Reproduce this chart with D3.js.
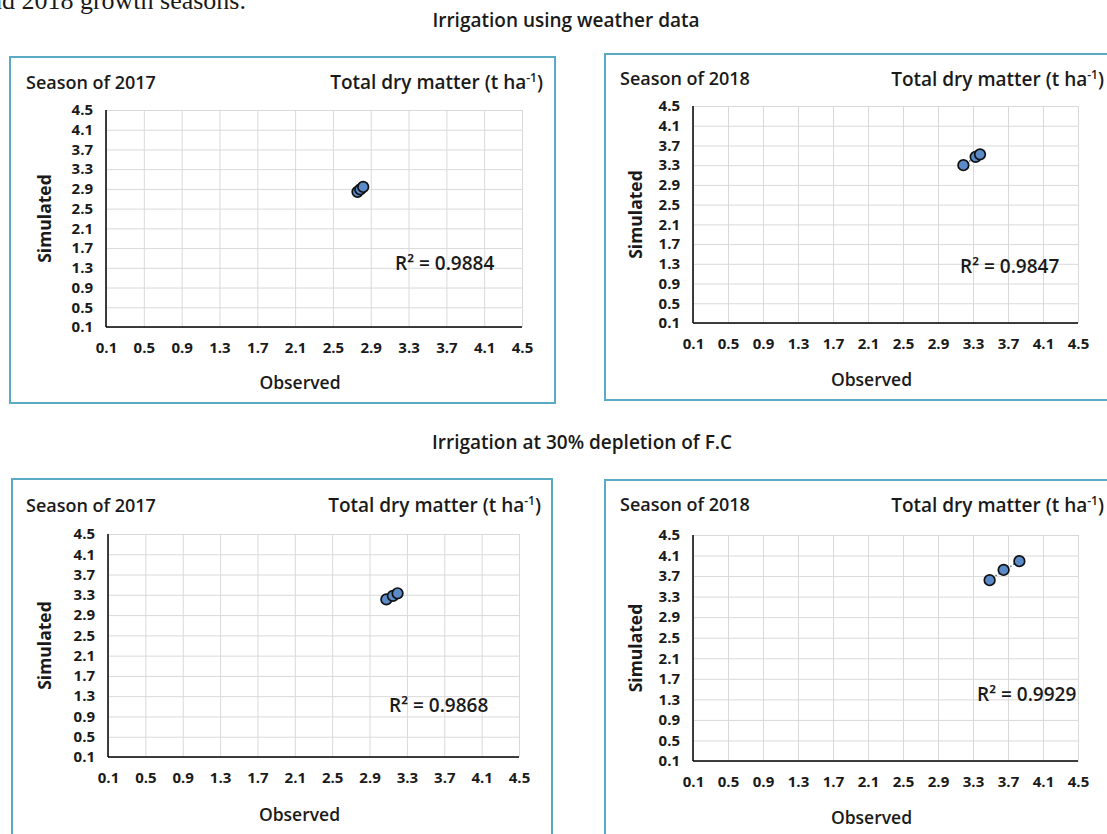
<!DOCTYPE html>
<html>
<head>
<meta charset="utf-8">
<script src="https://cdn.jsdelivr.net/npm/d3@7"></script>
<style>
  body { margin: 0; background: #fff; }
  svg text { font-family: "Open Sans", "Noto Sans", sans-serif; fill: #1a1a1a; }
</style>
</head>
<body>
<div class="grafico"></div>
<script>
// valori (t ha-1)
var ticks = [0.1, 0.5, 0.9, 1.3, 1.7, 2.1, 2.5, 2.9, 3.3, 3.7, 4.1, 4.5];
var stagioni = ["Season of 2017", "Season of 2018", "Season of 2017", "Season of 2018"];
var titoli = ["Irrigation using weather data", "Irrigation at 30% depletion of F.C"];
var r2 = ["0.9884", "0.9847", "0.9868", "0.9929"];

var oss2017meteo = [2.76, 2.79, 2.82];
var sim2017meteo = [2.84, 2.89, 2.94];
var oss2018meteo = [3.19, 3.33, 3.38];
var sim2018meteo = [3.30, 3.47, 3.52];
var oss2017fc = [3.08, 3.15, 3.20];
var sim2017fc = [3.21, 3.28, 3.33];
var oss2018fc = [3.49, 3.65, 3.83];
var sim2018fc = [3.62, 3.82, 3.99];

var osservati = [oss2017meteo, oss2018meteo, oss2017fc, oss2018fc];
var simulati = [sim2017meteo, sim2018meteo, sim2017fc, sim2018fc];

var w = 1107,
    h = 834;

var svg = d3.select(".grafico")
    .append("svg")
    .attr("width", w)
    .attr("height", h);

// testo del documento tagliato in alto
svg.append("text")
    .attr("x", 246)
    .attr("y", 9)
    .attr("text-anchor", "end")
    .style("font-family", "'Liberation Serif', serif")
    .style("font-size", "26px")
    .text("and 2018 growth seasons.");

// titoli di sezione
svg.append("text")
    .attr("x", 566).attr("y", 27)
    .attr("text-anchor", "middle")
    .style("font-size", "19px").style("font-weight", 600)
    .text(titoli[0]);
svg.append("text")
    .attr("x", 582).attr("y", 449)
    .attr("text-anchor", "middle")
    .style("font-size", "19px").style("font-weight", 600)
    .text(titoli[1]);

// posizione dei quattro riquadri
var pannelli = [
    { box: [10, 57, 545, 346], plot: [106, 110, 522, 327], sx: 26, sy: 89, tx: 543, ty: 89, rx: 395, ry: 270, simX: 45, obsY: 389 },
    { box: [605, 54, 520, 346], plot: [693, 106, 1078, 323], sx: 620, sy: 85, tx: 1104, ty: 86, rx: 960, ry: 273, simX: 636, obsY: 386 },
    { box: [12, 479, 540, 370], plot: [108, 534, 519, 757], sx: 26, sy: 512, tx: 541, ty: 512, rx: 389, ry: 712, simX: 45, obsY: 821 },
    { box: [605, 480, 520, 370], plot: [693, 535, 1078, 761], sx: 620, sy: 511, tx: 1104, ty: 512, rx: 977, ry: 701, simX: 636, obsY: 824 }
];

pannelli.forEach(function (p, i) {
    var g = svg.append("g").attr("class", "pannello");

    g.append("rect")
        .attr("x", p.box[0]).attr("y", p.box[1])
        .attr("width", p.box[2]).attr("height", p.box[3])
        .attr("fill", "none")
        .attr("stroke", "#5aaac3")
        .attr("stroke-width", 2);

    var x = d3.scaleLinear().domain([0.1, 4.5]).range([p.plot[0], p.plot[2]]);
    var y = d3.scaleLinear().domain([0.1, 4.5]).range([p.plot[3], p.plot[1]]);

    // griglia
    g.append("g")
        .attr("transform", "translate(0," + p.plot[3] + ")")
        .call(d3.axisBottom(x).tickValues(ticks).tickSize(-(p.plot[3] - p.plot[1])).tickFormat(""))
        .call(function (a) {
            a.select(".domain").remove();
            a.selectAll("line").attr("stroke", "#d9d9d9");
        });
    g.append("g")
        .attr("transform", "translate(" + p.plot[0] + ",0)")
        .call(d3.axisLeft(y).tickValues(ticks).tickSize(-(p.plot[2] - p.plot[0])).tickFormat(""))
        .call(function (a) {
            a.select(".domain").remove();
            a.selectAll("line").attr("stroke", "#d9d9d9");
        });

    // assi
    var asseX = g.append("g")
        .attr("transform", "translate(0," + p.plot[3] + ")")
        .call(d3.axisBottom(x).tickValues(ticks).tickSize(0).tickPadding(15).tickFormat(d3.format(".1f")));
    var asseY = g.append("g")
        .attr("transform", "translate(" + p.plot[0] + ",0)")
        .call(d3.axisLeft(y).tickValues(ticks).tickSize(0).tickPadding(13).tickFormat(d3.format(".1f")));
    [asseX, asseY].forEach(function (a) {
        a.select(".domain").attr("stroke", "#000").attr("stroke-width", 1.5);
        a.selectAll("text")
            .style("font-family", "'Open Sans', sans-serif")
            .style("font-size", "15px")
            .style("font-weight", 700)
            .attr("fill", "#1a1a1a");
    });
    asseY.select(".domain").attr("d", "M0," + p.plot[3] + "V" + p.plot[1]);
    asseX.select(".domain").attr("d", "M" + p.plot[0] + ",0H" + p.plot[2]);

    // linea di tendenza
    var ox = osservati[i], sy = simulati[i];
    var mx = d3.mean(ox), my = d3.mean(sy);
    var pend = d3.sum(ox, function (v, k) { return (v - mx) * (sy[k] - my); }) /
               d3.sum(ox, function (v) { return (v - mx) * (v - mx); });
    var x0 = d3.min(ox), x1 = d3.max(ox);
    g.append("line")
        .attr("x1", x(x0)).attr("y1", y(my + pend * (x0 - mx)))
        .attr("x2", x(x1)).attr("y2", y(my + pend * (x1 - mx)))
        .attr("stroke", "#4a6f9a")
        .attr("stroke-width", 1.5)
        .attr("stroke-dasharray", "1.5,2");

    // punti
    g.selectAll("circle.punto")
        .data(ox.map(function (v, k) { return [v, sy[k]]; }))
        .enter()
        .append("circle")
        .attr("class", "punto")
        .attr("cx", function (d) { return x(d[0]); })
        .attr("cy", function (d) { return y(d[1]); })
        .attr("r", 5.3)
        .attr("fill", "#5a8ac8")
        .attr("stroke", "#111")
        .attr("stroke-width", 1.7);

    // testi
    g.append("text")
        .attr("x", p.sx).attr("y", p.sy)
        .style("font-size", "18px").style("font-weight", 600)
        .text(stagioni[i]);

    var tit = g.append("text")
        .attr("x", p.tx).attr("y", p.ty)
        .attr("text-anchor", "end")
        .style("font-size", "19px").style("font-weight", 600);
    tit.append("tspan").text("Total dry matter (t ha");
    tit.append("tspan").attr("dy", -7).style("font-size", "12px").text("-1");
    tit.append("tspan").attr("dy", 7).text(")");

    g.append("text")
        .attr("x", p.rx).attr("y", p.ry)
        .style("font-size", "19px").style("font-weight", 600)
        .text("R\u00b2 = " + r2[i]);

    g.append("text")
        .attr("transform", "translate(" + (p.simX + 6) + "," + ((p.plot[1] + p.plot[3]) / 2) + ") rotate(-90)")
        .attr("text-anchor", "middle")
        .style("font-size", "17.5px").style("font-weight", 700)
        .text("Simulated");

    g.append("text")
        .attr("x", (p.plot[0] + p.plot[2]) / 2 - 14).attr("y", p.obsY)
        .attr("text-anchor", "middle")
        .style("font-size", "17.5px").style("font-weight", 600)
        .text("Observed");
});
</script>
</body>
</html>
